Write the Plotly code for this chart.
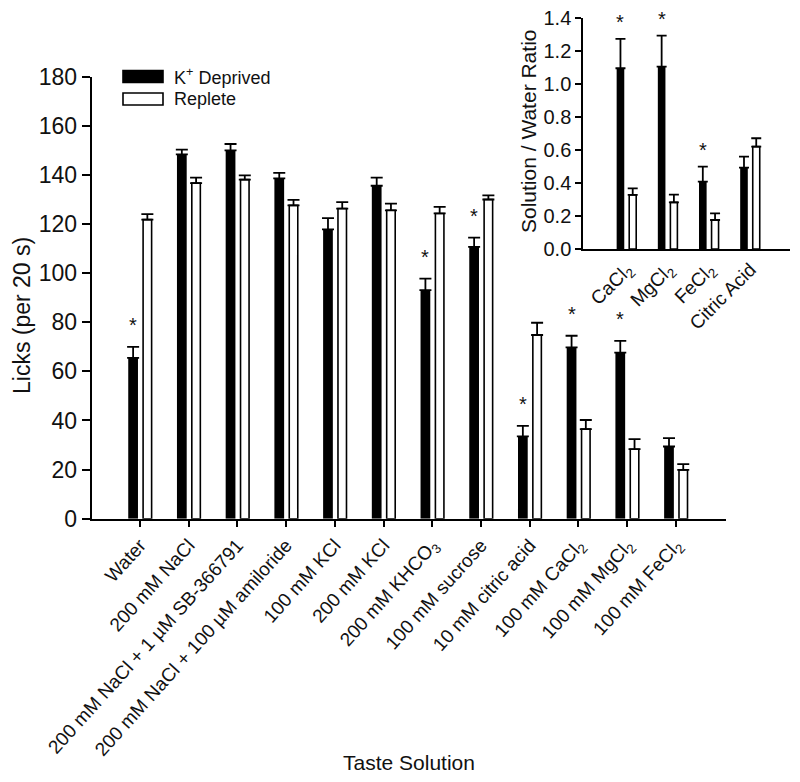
import plotly.graph_objects as go

# ---------------- data ----------------
categories = [
    "Water", "200 mM NaCl", "200 mM NaCl + 1 µM SB-366791",
    "200 mM NaCl + 100 µM amiloride", "100 mM KCl", "200 mM KCl",
    "200 mM KHCO<sub>3</sub>", "100 mM sucrose", "10 mM citric acid",
    "100 mM CaCl<sub>2</sub>", "100 mM MgCl<sub>2</sub>", "100 mM FeCl<sub>2</sub>",
]
deprived = [65.5, 148.4, 150.0, 138.6, 117.8, 135.6, 93.1, 110.7, 33.5, 69.8, 67.6, 29.4]
deprived_err = [4.5, 1.9, 2.6, 2.2, 4.6, 3.3, 4.7, 3.8, 4.3, 4.7, 4.8, 3.4]
replete = [121.8, 136.7, 138.1, 127.6, 126.3, 125.6, 124.3, 130.0, 74.8, 36.5, 28.3, 19.9]
replete_err = [2.2, 2.2, 1.7, 2.2, 2.6, 2.7, 2.7, 1.7, 5.0, 3.7, 4.1, 2.3]
significant = [True, False, False, False, False, False, True, True, True, True, True, False]
y_ticks = [0, 20, 40, 60, 80, 100, 120, 140, 160, 180]

inset_categories = ["CaCl<sub>2</sub>", "MgCl<sub>2</sub>", "FeCl<sub>2</sub>", "Citric Acid"]
inset_deprived = [1.097, 1.107, 0.409, 0.494]
inset_deprived_err = [0.178, 0.188, 0.091, 0.066]
inset_replete = [0.328, 0.283, 0.176, 0.621]
inset_replete_err = [0.040, 0.047, 0.040, 0.051]
inset_significant = [True, True, True, False]
inset_y_ticks = [0.0, 0.2, 0.4, 0.6, 0.8, 1.0, 1.2, 1.4]

# ---------------- layout helpers ----------------
# page body has an 8px margin; the figure is sized to fit inside the 800x782 window
PAD = 8
W, H = 800 - 2 * PAD, 782 - 2 * PAD
def px_x(x):
    return (x - PAD) / W
def px_y(y):
    return (H - (y - PAD)) / H

FONT = "Liberation Sans, Arial, sans-serif"
INK = "#111111"

main_x = list(range(len(categories)))
inset_x = list(range(len(inset_categories)))

fig = go.Figure()

# main chart bars
fig.add_trace(go.Bar(
    x=main_x, y=deprived, name="K<sup>+</sup> Deprived",
    width=0.2, offset=-0.24,
    marker=dict(color="black", line=dict(color="black", width=0)),
    error_y=dict(type="data", symmetric=False, array=deprived_err,
                 arrayminus=[0] * len(deprived_err), color="black",
                 thickness=1.8, width=6),
    xaxis="x", yaxis="y", showlegend=False,
))
fig.add_trace(go.Bar(
    x=main_x, y=replete, name="Replete",
    width=0.175, offset=0.065,
    marker=dict(color="white", line=dict(color="black", width=1.6)),
    error_y=dict(type="data", symmetric=False, array=replete_err,
                 arrayminus=[0] * len(replete_err), color="black",
                 thickness=1.8, width=6),
    xaxis="x", yaxis="y", showlegend=False,
))

# inset bars
fig.add_trace(go.Bar(
    x=inset_x, y=inset_deprived, name="K<sup>+</sup> Deprived",
    width=0.185, offset=-0.25,
    marker=dict(color="black", line=dict(color="black", width=0)),
    error_y=dict(type="data", symmetric=False, array=inset_deprived_err,
                 arrayminus=[0] * len(inset_deprived_err), color="black",
                 thickness=1.8, width=5),
    xaxis="x2", yaxis="y2", showlegend=False,
))
fig.add_trace(go.Bar(
    x=inset_x, y=inset_replete, name="Replete",
    width=0.17, offset=0.055,
    marker=dict(color="white", line=dict(color="black", width=1.6)),
    error_y=dict(type="data", symmetric=False, array=inset_replete_err,
                 arrayminus=[0] * len(inset_replete_err), color="black",
                 thickness=1.8, width=5),
    xaxis="x2", yaxis="y2", showlegend=False,
))

annotations = []
# significance stars (main)
for i, sig in enumerate(significant):
    if sig:
        annotations.append(dict(
            x=i - 0.14, y=deprived[i] + deprived_err[i], xref="x", yref="y",
            text="*", showarrow=False, yanchor="middle", yshift=22,
            font=dict(family=FONT, size=20, color=INK)))
# significance stars (inset)
for i, sig in enumerate(inset_significant):
    if sig:
        annotations.append(dict(
            x=i - 0.157, y=inset_deprived[i] + inset_deprived_err[i], xref="x2", yref="y2",
            text="*", showarrow=False, yanchor="middle", yshift=17,
            font=dict(family=FONT, size=20, color=INK)))

# axis titles
annotations.append(dict(
    x=px_x(22), y=px_y(316), xref="paper", yref="paper",
    text="Licks (per 20 s)", textangle=-90, showarrow=False,
    xanchor="center", yanchor="middle",
    font=dict(family=FONT, size=23, color=INK)))
annotations.append(dict(
    x=px_x(409), y=px_y(762), xref="paper", yref="paper",
    text="Taste Solution", showarrow=False,
    xanchor="center", yanchor="middle",
    font=dict(family=FONT, size=21, color=INK)))
annotations.append(dict(
    x=px_x(528), y=px_y(132), xref="paper", yref="paper",
    text="Solution / Water Ratio", textangle=-90, showarrow=False,
    xanchor="center", yanchor="middle",
    font=dict(family=FONT, size=21, color=INK)))

# custom legend
legend_items = [("K<sup>+</sup> Deprived", "black", 76.5), ("Replete", "white", 99)]
shapes = []
for label, color, yc in legend_items:
    shapes.append(dict(
        type="rect", xref="paper", yref="paper",
        x0=px_x(123), x1=px_x(163), y0=px_y(yc + 6), y1=px_y(yc - 6),
        fillcolor=color, line=dict(color="black", width=1.6)))
    annotations.append(dict(
        x=px_x(172), y=px_y(yc), xref="paper", yref="paper",
        text=label, showarrow=False, xanchor="left", yanchor="middle",
        font=dict(family=FONT, size=18, color=INK)))

fig.update_layout(
    width=W, height=H,
    margin=dict(l=0, r=0, t=0, b=0),
    paper_bgcolor="white", plot_bgcolor="rgba(0,0,0,0)",
    barmode="overlay",
    showlegend=False,
    annotations=annotations,
    shapes=shapes,
    xaxis=dict(
        domain=[px_x(91.7), px_x(726)], range=[-0.99, 12.03],
        tickmode="array", tickvals=main_x, ticktext=categories,
        tickangle=-48, ticks="outside", ticklen=6, tickwidth=1.8, tickcolor="black",
        showline=True, linecolor="black", linewidth=2,
        showgrid=False, zeroline=False, automargin=False,
        tickfont=dict(family=FONT, size=19, color=INK),
        ticklabeloverflow="allow",
        anchor="y",
    ),
    yaxis=dict(
        domain=[px_y(518.7), px_y(76.7)], range=[0, 180],
        tickmode="array", tickvals=y_ticks,
        ticks="outside", ticklen=8, tickwidth=2, tickcolor="black",
        showline=True, linecolor="black", linewidth=2,
        showgrid=False, zeroline=False, automargin=False,
        tickfont=dict(family=FONT, size=23, color=INK),
        ticklabeloverflow="allow",
        anchor="x",
    ),
    xaxis2=dict(
        domain=[px_x(583.3), px_x(790)], range=[-1.06, 3.96],
        tickmode="array", tickvals=inset_x, ticktext=inset_categories,
        tickangle=-45, ticks="",
        showline=True, linecolor="black", linewidth=2,
        showgrid=False, zeroline=False, automargin=False,
        tickfont=dict(family=FONT, size=19, color=INK),
        ticklabeloverflow="allow",
        anchor="y2",
    ),
    yaxis2=dict(
        domain=[px_y(249), px_y(18.3)], range=[0, 1.4],
        tickmode="array", tickvals=inset_y_ticks,
        tickformat=".1f",
        ticks="outside", ticklen=6, tickwidth=1.8, tickcolor="black",
        showline=True, linecolor="black", linewidth=2,
        showgrid=False, zeroline=False, automargin=False,
        tickfont=dict(family=FONT, size=20, color=INK),
        ticklabeloverflow="allow",
        anchor="x2",
    ),
)

fig.write_html("out.html")
